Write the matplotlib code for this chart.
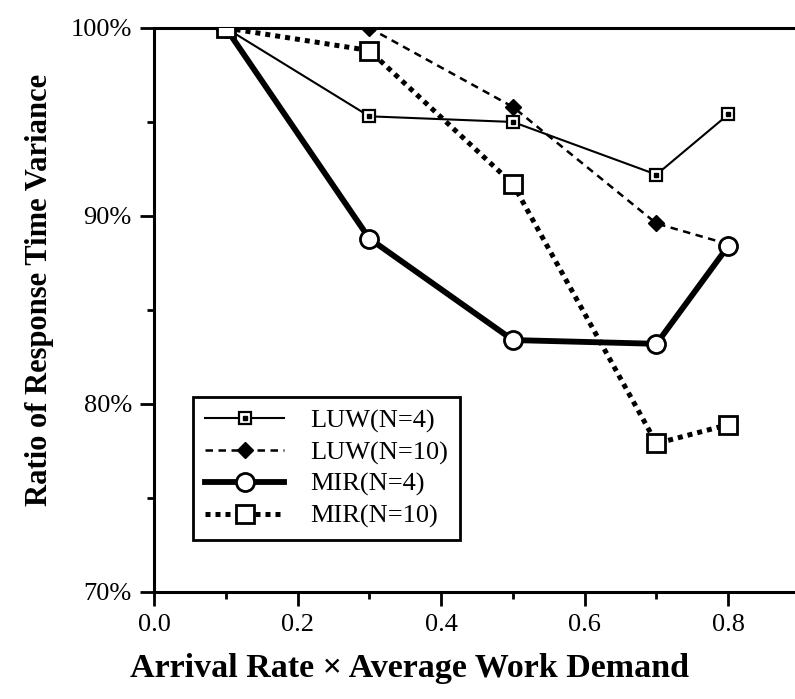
import matplotlib
matplotlib.use("Agg")
import matplotlib.pyplot as plt
from matplotlib.ticker import MultipleLocator

plt.rcParams["font.family"] = ["Liberation Serif", "DejaVu Serif"]

load = [0.1, 0.3, 0.5, 0.7, 0.8]
luw_n4 = [100, 95.3, 95.0, 92.2, 95.4]
luw_n10 = [100, 100, 95.8, 89.6, 88.5]
mir_n4 = [100, 88.8, 83.4, 83.2, 88.4]
mir_n10 = [100, 98.8, 91.7, 77.9, 78.9]

x_ticks = [0.0, 0.2, 0.4, 0.6, 0.8]
x_ticklabels = ["0.0", "0.2", "0.4", "0.6", "0.8"]
y_ticks = [70, 80, 90, 100]
y_ticklabels = ["70%", "80%", "90%", "100%"]

fig = plt.figure(figsize=(7.95, 6.99), dpi=100)
ax = fig.add_axes([0.1937, 0.1531, 0.8063, 0.8069])

l1, = ax.plot(load, luw_n4, color="black", lw=1.5, marker="s", ms=8,
              mfc="white", mec="black", mew=1.6, zorder=3)
d1, = ax.plot(load, luw_n4, ls="none", marker="s", ms=2.2, color="black", zorder=4)
l2, = ax.plot(load, luw_n10, color="black", lw=1.8, ls=(0, (3, 2.2)),
              marker="D", ms=8, mfc="black", mec="black", zorder=3)
l3, = ax.plot(load, mir_n4, color="black", lw=4.2, marker="o", ms=13,
              mfc="white", mec="black", mew=2, zorder=5)
l4, = ax.plot(load, mir_n10, color="black", lw=3.6, ls=(0, (1.0, 1.0)),
              dash_capstyle="butt", marker="s", ms=13, mfc="white",
              mec="black", mew=2, zorder=5)

ax.set_xlim(0, 0.893)
ax.set_ylim(70, 100)
ax.set_xticks(x_ticks, x_ticklabels, fontsize=19)
ax.set_yticks(y_ticks, y_ticklabels, fontsize=19)
ax.xaxis.set_minor_locator(MultipleLocator(0.1))
ax.yaxis.set_minor_locator(MultipleLocator(5))
ax.tick_params(which="major", direction="out", length=10, width=2, pad=6)
ax.tick_params(which="minor", direction="out", length=5, width=2)

for side in ["left", "bottom", "top"]:
    ax.spines[side].set_linewidth(2.2)
ax.spines["right"].set_visible(False)

fig.text(0.515, 0.044, "Arrival Rate \u00d7 Average Work Demand",
         ha="center", va="center", fontsize=24.5, fontweight="bold")
fig.text(0.05, 0.585, "Ratio of Response Time Variance", rotation=90,
         ha="center", va="center", fontsize=22, fontweight="bold")

leg = ax.legend([(l1, d1), l2, l3, l4],
                ["LUW(N=4)", "LUW(N=10)", "MIR(N=4)", "MIR(N=10)"],
                loc="lower left", bbox_to_anchor=(0.061, 0.092),
                borderaxespad=0, fontsize=19, handlelength=3.0,
                handletextpad=1.0, labelspacing=0.3, borderpad=0.45,
                fancybox=False, framealpha=1, edgecolor="black")
leg.get_frame().set_linewidth(2)

fig.savefig("out.png", dpi=100)
